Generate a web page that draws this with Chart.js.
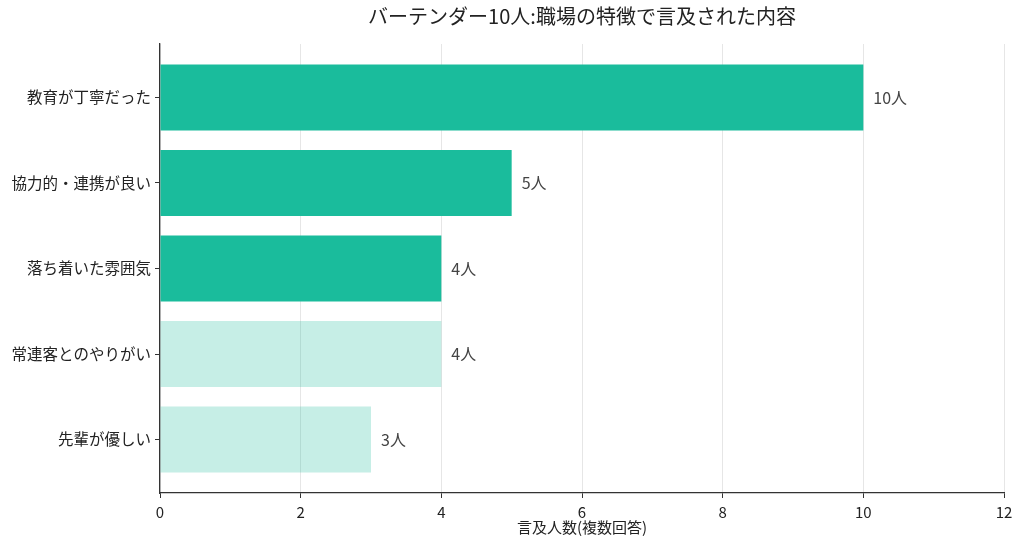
<!DOCTYPE html>
<html><head><meta charset="utf-8">
<script src="https://cdn.jsdelivr.net/npm/chart.js@4/dist/chart.umd.min.js"></script>
<style>html,body{margin:0;padding:0;background:#fff}#wrap{width:1024px;height:550px}</style>
</head><body><div id="wrap"><canvas id="c" width="1024" height="550"></canvas></div>
<script>
const categories = ["教育が丁寧だった","協力的・連携が良い","落ち着いた雰囲気","常連客とのやりがい","先輩が優しい"];
const values = [10, 5, 4, 4, 3];
const highlighted = [true, true, true, false, false];
const xTicks = [0, 2, 4, 6, 8, 10, 12];
const titleText = "バーテンダー10人:職場の特徴で言及された内容";
const xTitle = "言及人数(複数回答)";
const unit = "人";

const FONT = "'Noto Sans CJK JP', 'Noto Sans', sans-serif";
const dark = "#1abc9c", light = "rgba(26,188,156,0.25)";

const labelPlugin = {
  id: 'vlabels',
  afterDatasetsDraw(chart) {
    const ctx = chart.ctx;
    const meta = chart.getDatasetMeta(0);
    ctx.save();
    ctx.font = "16px " + FONT;
    ctx.fillStyle = "#444";
    ctx.textAlign = "left";
    ctx.textBaseline = "middle";
    meta.data.forEach((el, i) => {
      ctx.fillText(values[i] + unit, el.x + 10, el.y);
    });
    ctx.restore();
  }
};

new Chart(document.getElementById('c'), {
  type: 'bar',
  data: {
    datasets: [{
      data: values.map((v, i) => ({x: v, y: i})),
      backgroundColor: highlighted.map(h => h ? dark : light),
      borderWidth: 0,
      barPercentage: 0.77,
      categoryPercentage: 1.0
    }]
  },
  options: {
    indexAxis: 'y',
    responsive: false,
    animation: false,
    layout: { padding: { left: 0, right: 20, top: 4, bottom: 15 } },
    plugins: {
      legend: { display: false },
      tooltip: { enabled: false },
      title: {
        display: true, text: titleText, fullSize: false,
        color: "#222", font: { family: FONT, size: 20, weight: 'normal' },
        padding: { top: 0, bottom: 16 }
      }
    },
    scales: {
      x: {
        type: 'linear', min: 0, max: 12,
        afterBuildTicks: s => { s.ticks = xTicks.map(v => ({value: v})); },
        afterFit: s => { s.height = 42; },
        grid: { color: "#e6e6e6", lineWidth: 1, tickColor: "#333", tickLength: 5, drawTicks: true },
        border: { display: true, color: "#333", width: 1.3 },
        ticks: { color: "#222", font: { family: FONT, size: 15, lineHeight: 1 }, padding: 7 },
        title: { display: true, text: xTitle, color: "#222", font: { family: FONT, size: 15, lineHeight: 1 }, padding: { top: 1, bottom: 0 } }
      },
      y: {
        type: 'linear', reverse: true, min: -0.625, max: 4.625, offset: false,
        afterBuildTicks: s => { s.ticks = categories.map((c, i) => ({value: i})); },
        afterFit: s => { s.width = 160; },
        grid: { display: true, offset: false, drawOnChartArea: false, tickColor: "#333", tickLength: 5 },
        border: { display: true, color: "#333", width: 1.3 },
        ticks: { color: "#222", font: { family: FONT, size: 15.5 }, padding: 4,
          callback: v => categories[v] }
      }
    }
  },
  plugins: [labelPlugin]
});
</script></body></html>
